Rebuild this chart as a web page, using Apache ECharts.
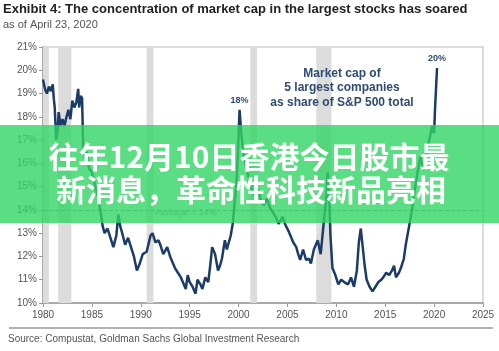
<!DOCTYPE html>
<html>
<head>
<meta charset="utf-8">
<script src="https://cdn.jsdelivr.net/npm/echarts@6/dist/echarts.min.js"></script>
<style>
  html, body { margin: 0; padding: 0; background: #fff; }
  #chart { width: 499px; height: 351px; }
</style>
</head>
<body>
<div id="chart"></div>
<script>
// Market cap of 5 largest companies as share of S&P 500 total (%)
const years = [
  1980.0, 1980.2, 1980.4, 1980.6, 1980.8, 1981.0, 1981.1, 1981.2, 1981.35, 1981.5,
  1981.6, 1981.8, 1982.0, 1982.2, 1982.4, 1982.6, 1982.8, 1983.0, 1983.2, 1983.4,
  1983.6, 1983.7, 1983.85, 1984.0, 1984.1, 1984.3, 1984.5, 1984.7, 1985.0, 1985.3,
  1985.6, 1985.9, 1986.1, 1986.3, 1986.6, 1986.9, 1987.2, 1987.5, 1987.7, 1987.9,
  1988.1, 1988.4, 1988.7, 1989.0, 1989.3, 1989.6, 1989.9, 1990.2, 1990.6, 1991.0,
  1991.2, 1991.5, 1991.8, 1992.0, 1992.3, 1992.7, 1993.0, 1993.3, 1993.5, 1993.8,
  1994.1, 1994.3, 1994.6, 1994.8, 1995.0, 1995.3, 1995.6, 1995.8, 1996.1, 1996.3,
  1996.6, 1996.9, 1997.1, 1997.3, 1997.6, 1997.9, 1998.1, 1998.3, 1998.6, 1998.8,
  1999.0, 1999.2, 1999.4, 1999.6, 1999.8, 1999.95, 2000.1, 2000.3, 2000.5, 2000.8,
  2001.1, 2001.4, 2001.7, 2002.0, 2002.3, 2002.6, 2002.9, 2003.2, 2003.5, 2003.8,
  2004.1, 2004.5, 2004.8, 2005.1, 2005.3, 2005.6, 2005.9, 2006.1, 2006.3, 2006.6,
  2006.9, 2007.2, 2007.4, 2007.7, 2008.1, 2008.4, 2008.7, 2009.0, 2009.1, 2009.3,
  2009.4, 2009.6, 2009.9, 2010.2, 2010.5, 2010.8, 2011.2, 2011.5, 2011.8, 2012.1,
  2012.3, 2012.5, 2012.7, 2012.9, 2013.1, 2013.4, 2013.7, 2014.0, 2014.3, 2014.6,
  2014.8, 2015.1, 2015.4, 2015.7, 2015.9, 2016.1, 2016.4, 2016.6, 2016.9, 2017.1,
  2017.4, 2017.7, 2018.0, 2018.3, 2018.6, 2018.9, 2019.2, 2019.5, 2019.8, 2020.0,
  2020.1, 2020.3
];
const shares = [
  19.6, 19.2, 19.0, 19.3, 19.1, 19.4, 18.8, 18.4, 17.0, 17.4,
  18.2, 17.6, 17.9, 17.6, 18.0, 18.3, 17.9, 18.7, 18.4, 18.6,
  19.2, 18.4, 18.9, 18.8, 16.8, 16.2, 16.5, 15.8, 15.6, 15.1,
  14.6, 13.9, 13.3, 13.0, 13.2, 12.8, 12.4, 12.9, 13.8, 13.3,
  13.0, 12.5, 12.8, 12.4, 12.0, 11.4, 11.7, 12.1, 12.2, 12.9,
  13.0, 12.6, 12.7, 12.5, 12.1, 12.4, 12.0, 11.7, 11.5, 11.3,
  11.1, 10.9, 10.6, 11.2, 10.9, 10.7, 10.4, 11.0, 10.8, 10.6,
  11.1, 10.9, 11.6, 12.4, 12.1, 11.4, 11.6, 11.9, 12.7, 12.3,
  12.6, 12.9, 13.4, 14.3, 15.2, 16.6, 18.3, 17.2, 16.4, 15.8,
  15.3, 14.8, 14.6, 14.9, 14.4, 14.2, 14.5, 14.1, 13.9, 13.7,
  13.4, 13.7, 13.35, 13.1, 12.9, 12.6, 12.4, 12.1, 11.85, 12.3,
  11.85, 11.9, 11.7, 12.3, 12.7, 12.1, 13.4, 14.6, 15.6, 14.2,
  12.9, 11.5, 11.2, 10.8, 11.0, 10.9, 10.8, 11.1, 10.7, 11.4,
  12.6, 13.2, 12.4, 11.6, 11.0, 10.7, 10.5, 10.7, 10.9, 11.0,
  11.1, 11.3, 11.2, 11.4, 11.6, 11.1, 11.3, 11.5, 11.9, 12.5,
  13.2, 13.9, 14.8, 15.6, 16.3, 15.7, 16.3, 17.0, 17.6, 17.3,
  18.4, 20.1
];

// Recession bands (shaded)
const recessionStarts = [1980.0, 1981.55, 1990.6, 2001.2, 2007.95];
const recessionEnds = [1980.6, 1982.9, 1991.3, 2001.9, 2009.5];

// Peak callouts
const peakYears = [2000.1, 2020.3];
const peakValues = [18.3, 20.1];
const peakLabels = ["18%", "20%"];

const averageValue = 14;

const font = "Liberation Sans, Arial, sans-serif";
const navy = "#1b3c66";

let chart = echarts.init(document.getElementById("chart"));

let lineData = years.map((y, i) => [y, shares[i]]);
let bands = recessionStarts.map((s, i) => [{ xAxis: s }, { xAxis: recessionEnds[i] }]);
let peaks = peakYears.map((y, i) => ({ coord: [y, peakValues[i]], value: peakLabels[i] }));

let option = {
  animation: false,
  grid: {
    left: 43,
    right: 16,
    top: 47,
    bottom: 48,
    show: true,
    borderColor: "#cfcfcf",
    borderWidth: 1.5,
  },
  xAxis: {
    type: "value",
    min: 1980,
    max: 2025,
    interval: 5,
    axisLine: { show: true, lineStyle: { color: "#9a9a9a", width: 1.5 } },
    axisTick: { show: true, length: 4, lineStyle: { color: "#9a9a9a" } },
    axisLabel: {
      color: "#555",
      fontSize: 10,
      fontFamily: font,
      margin: 7,
      formatter: (v) => String(v),
    },
    splitLine: { show: false },
  },
  yAxis: {
    type: "value",
    min: 10,
    max: 21,
    interval: 1,
    axisLine: { show: true, lineStyle: { color: "#9a9a9a", width: 1.5 } },
    axisTick: { show: true, length: 4, lineStyle: { color: "#9a9a9a" } },
    axisLabel: {
      color: "#555",
      fontSize: 10,
      fontFamily: font,
      margin: 6,
      formatter: "{value}%",
    },
    splitLine: { show: false },
  },
  series: [
    {
      type: "line",
      data: lineData,
      symbol: "none",
      lineStyle: { color: navy, width: 2.5 },
      z: 5,
      markArea: {
        silent: true,
        itemStyle: { color: "#dcdcdc" },
        data: bands,
      },
      markLine: {
        silent: true,
        symbol: "none",
        lineStyle: { color: "#8c8c8c", type: "dashed", width: 1 },
        label: { show: false },
        data: [{ yAxis: averageValue }],
      },
      markPoint: {
        silent: true,
        symbol: "circle",
        symbolSize: 0,
        label: {
          show: true,
          position: "top",
          distance: 5,
          color: "#2e4b70",
          fontSize: 9,
          fontWeight: "bold",
          fontFamily: font,
          formatter: (p) => p.value,
        },
        data: peaks,
      },
    },
  ],
  graphic: [
    {
      type: "text",
      x: 3,
      y: 9,
      style: {
        text: "Exhibit 4: The concentration of market cap in the largest stocks has soared",
        font: "bold 13px " + font,
        fill: "#222",
        textVerticalAlign: "middle",
      },
    },
    {
      type: "text",
      x: 3,
      y: 25,
      style: {
        text: "as of April 23, 2020",
        font: "11px " + font,
        fill: "#555",
        textVerticalAlign: "middle",
      },
    },
    {
      type: "text",
      x: 342,
      y: 88,
      z: 10,
      style: {
        text: "Market cap of\n5 largest companies\nas share of S&P 500 total",
        font: "bold 12px " + font,
        fill: "#2e4b70",
        textAlign: "center",
        textVerticalAlign: "middle",
        lineHeight: 14.5,
      },
    },
    {
      type: "text",
      x: 155,
      y: 213,
      z: 10,
      style: {
        text: "Average = " + averageValue + "%",
        font: "9px " + font,
        fill: "#888",
        textVerticalAlign: "middle",
      },
    },
    {
      type: "line",
      shape: { x1: 9, y1: 328, x2: 493, y2: 328 },
      style: { stroke: "#9a9a9a", lineWidth: 1.5 },
    },
    {
      type: "text",
      x: 8,
      y: 339,
      style: {
        text: "Source: Compustat, Goldman Sachs Global Investment Research",
        font: "10px " + font,
        fill: "#555",
        textVerticalAlign: "middle",
      },
    },
    // Green overlay banner
    {
      type: "rect",
      z: 100,
      shape: { x: 0, y: 125, width: 499, height: 98 },
      style: { fill: "rgba(50, 214, 100, 0.8)" },
    },
    {
      type: "text",
      z: 101,
      x: 249,
      y: 157,
      style: {
        text: "往年12月10日香港今日股市最",
        font: "bold 30px 'Noto Sans CJK SC', sans-serif",
        fill: "#fff",
        textAlign: "center",
        textVerticalAlign: "middle",
      },
    },
    {
      type: "text",
      z: 101,
      x: 251,
      y: 190,
      style: {
        text: "新消息，革命性科技新品亮相",
        font: "bold 30px 'Noto Sans CJK SC', sans-serif",
        fill: "#fff",
        textAlign: "center",
        textVerticalAlign: "middle",
      },
    },
  ],
};

chart.setOption(option);
</script>
</body>
</html>
